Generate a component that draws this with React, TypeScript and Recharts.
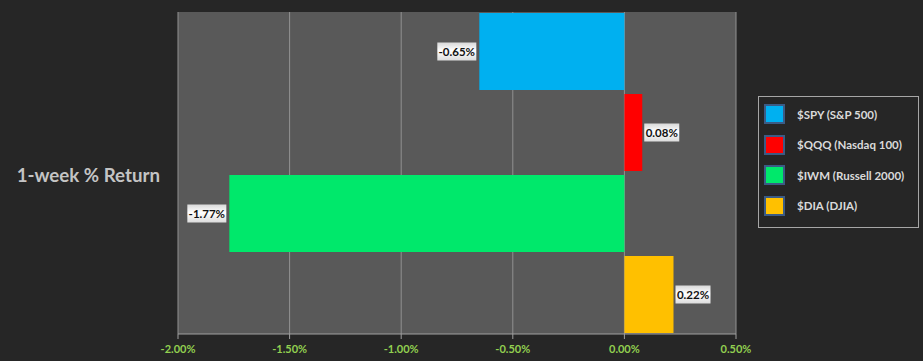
import { BarChart, Bar, XAxis, YAxis, CartesianGrid, Legend, LabelList } from 'recharts'

const CATEGORIES = ['1-week % Return']
const SERIES_KEYS = ['SPY', 'QQQ', 'IWM', 'DIA']
const SERIES_NAMES = ['$SPY (S&P 500)', '$QQQ (Nasdaq 100)', '$IWM (Russell 2000)', '$DIA (DJIA)']
const RETURNS = [-0.65, 0.08, -1.77, 0.22]
const X_TICKS = [-2, -1.5, -1, -0.5, 0, 0.5]

const SERIES_COLORS = ['#00b0f0', '#ff0000', '#00e86b', '#ffc000']

const data = CATEGORIES.map((name) => {
  const row: Record<string, string | number> = { name }
  SERIES_KEYS.forEach((k, i) => {
    row[k] = RETURNS[i]
  })
  return row
})

const pct = (v: number) => `${v.toFixed(2)}%`

// little glossy badge next to the end of each bar
function ValueBadge(props: any) {
  const { x, y, width, height, value } = props
  const v = Number(value)
  const left = Math.min(x, x + width)
  const right = Math.max(x, x + width)
  const w = v < 0 ? 39 : 35
  const h = 18
  const bx = v < 0 ? left - 3 - w : right + 2
  const cy = y + height / 2
  return (
    <g>
      <rect x={bx} y={cy - h / 2} width={w} height={h} fill="url(#badgeFill)" />
      <text
        x={bx + w / 2}
        y={cy}
        dy="0.36em"
        textAnchor="middle"
        fontSize={11.5}
        fontWeight="bold"
        fill="#111"
      >
        {pct(v)}
      </text>
    </g>
  )
}

function BoxLegend({ payload }: any) {
  if (!payload?.length) return null
  // keep the series order, the vertical layout flips it
  const items = [...payload].sort(
    (a: any, b: any) => SERIES_NAMES.indexOf(a.value) - SERIES_NAMES.indexOf(b.value),
  )
  return (
    <div
      style={{
        border: '1px solid #a6a6a6',
        width: 159,
        height: 128,
        boxSizing: 'content-box',
        paddingTop: 2,
      }}
    >
      {items.map((p: any) => (
        <div
          key={p.value}
          style={{ display: 'flex', alignItems: 'center', height: 30.5, paddingLeft: 5 }}
        >
          <span
            style={{
              display: 'inline-block',
              width: 17,
              height: 16,
              background: p.color,
              border: '2px solid #3b5b85',
              marginRight: 12,
            }}
          />
          <span style={{ color: '#dadada', fontSize: 11.5, fontWeight: 'bold' }}>{p.value}</span>
        </div>
      ))}
    </div>
  )
}

export default function App() {
  return (
    <div
      style={{
        position: 'absolute',
        top: 0,
        left: 0,
        width: 923,
        height: 361,
        background: '#262626',
        fontFamily: 'Lato, sans-serif',
      }}
    >
      <BarChart
        width={923}
        height={361}
        data={data}
        layout="vertical"
        margin={{ top: 12, right: 187, bottom: 0, left: 0 }}
        barCategoryGap={1}
        barGap={4}
      >
        <defs>
          <linearGradient id="badgeFill" x1="0" y1="0" x2="0" y2="1">
            <stop offset="0%" stopColor="#d8d8d8" />
            <stop offset="45%" stopColor="#ffffff" />
            <stop offset="100%" stopColor="#dcdcdc" />
          </linearGradient>
        </defs>
        <CartesianGrid fill="#595959" stroke="#929292" horizontal={false} />
        <XAxis
          type="number"
          domain={[-2, 0.5]}
          ticks={X_TICKS}
          tickFormatter={pct}
          height={27}
          tickSize={5}
          tickMargin={6}
          stroke="#a0a0a0"
          tick={{ fill: '#92d050', fontSize: 11, fontWeight: 'bold' }}
        />
        <YAxis
          type="category"
          dataKey="name"
          width={178}
          axisLine={false}
          tickLine={false}
          tickSize={6}
          tickMargin={12}
          tick={{ fill: '#c4c4c4', fontSize: 18.7, fontWeight: 'bold', dy: 2 }}
        />
        <Legend
          layout="horizontal"
          verticalAlign="middle"
          align="center"
          content={<BoxLegend />}
          wrapperStyle={{ left: 758, top: 96, width: 161, height: 132 }}
        />
        {SERIES_KEYS.map((k, i) => (
          <Bar
            key={k}
            dataKey={k}
            name={SERIES_NAMES[i]}
            fill={SERIES_COLORS[i]}
            isAnimationActive={false}
          >
            <LabelList dataKey={k} content={<ValueBadge />} />
          </Bar>
        ))}
      </BarChart>
    </div>
  )
}
